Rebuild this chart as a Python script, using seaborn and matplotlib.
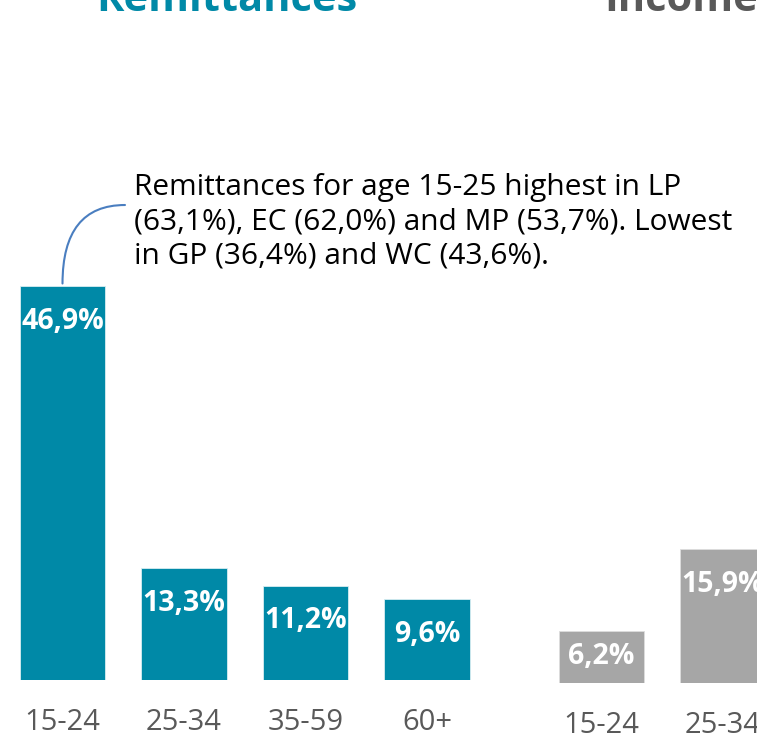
import matplotlib
matplotlib.use('Agg')
import matplotlib.pyplot as plt
import seaborn as sns
import pandas as pd

# ── Données ─────────────────────────────────────────────
remit_ages   = ["15-24", "25-34", "35-59", "60+"]
remit_values = [46.9, 13.3, 11.2, 9.6]

income_ages   = ["15-24", "25-34"]
income_values = [6.2, 15.9]

note_lines = [
    "Remittances for age 15-25 highest in LP",
    "(63,1%), EC (62,0%) and MP (53,7%). Lowest",
    "in GP (36,4%) and WC (43,6%).",
]

TEAL  = "#0089A7"
GREY  = "#A6A6A6"
DARK  = "#595959"

sns.set_theme(style="white")
plt.rcParams['font.family'] = ['Open Sans', 'DejaVu Sans']

W, H = 757, 738
fig = plt.figure(figsize=(W / 100, H / 100), dpi=100)

# axes en pixels : 121.5 px par catégorie, 8.4 px par point de %
step, ppu = 121.5, 8.4
ymax = 60
ax1 = fig.add_axes([1.75 / W, 58 / H, 4 * step / W, ymax * ppu / H])
ax2 = fig.add_axes([540.75 / W, 55 / H, 4 * step / W, ymax * ppu / H])


def dessiner(ax, ages, values, color):
    df = pd.DataFrame({"age": ages, "val": values})
    sns.barplot(data=df, x="age", y="val", color=color, width=0.70,
                saturation=1, ax=ax, edgecolor="#d8eef2" if color == TEAL else "#dddddd",
                linewidth=0.6)
    ax.set_xlim(-0.5, 3.5)
    ax.set_ylim(0, ymax)
    ax.set_xlabel(""); ax.set_ylabel("")
    ax.set_yticks([])
    ax.tick_params(axis="x", length=0, pad=20, labelsize=21, labelcolor=DARK)
    for s in ax.spines.values():
        s.set_visible(False)
    ax.patch.set_alpha(0)
    # étiquettes dans la barre, ~35 px sous le sommet (ou au milieu si barre courte)
    for i, v in enumerate(values):
        y = max(v - 35 / ppu, v / 2)
        ax.text(i, y, f"{v:.1f}%".replace(".", ","), ha="center", va="center",
                color="white", fontsize=20.5, fontweight="bold")


dessiner(ax1, remit_ages, remit_values, TEAL)
dessiner(ax2, income_ages, income_values, GREY)

# titres (coupés en haut)
fig.text(227 / W, (H - 11) / H, "Remittances", ha="center", va="baseline",
         color=TEAL, fontsize=30, fontweight="bold")
fig.text(604 / W, (H - 11) / H, "Income", ha="left", va="baseline",
         color=DARK, fontsize=30, fontweight="bold")

# note explicative
for k, line in enumerate(note_lines):
    fig.text(134 / W, (H - 195 - 34.5 * k) / H, line, ha="left", va="baseline",
             color="black", fontsize=21.5)

# trait courbe vers la barre 15-24
ax1.annotate("", xy=(0, remit_values[0] + 0.3), xycoords="data",
             xytext=(125, H - 205), textcoords="figure pixels",
             arrowprops=dict(arrowstyle="-", color="#4A7EC0", lw=1.5,
                             connectionstyle="angle3,angleA=0,angleB=90",
                             shrinkA=0, shrinkB=0))

fig.savefig("out.png", dpi=100)
